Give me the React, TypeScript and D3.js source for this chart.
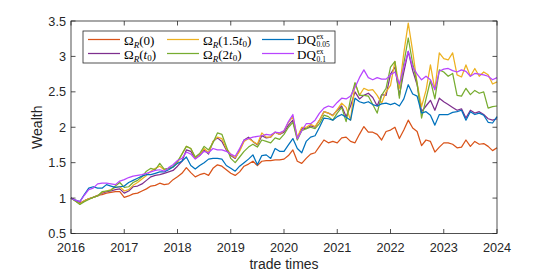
import React from "react";
import * as d3 from "d3";

const startYear = 2016;
const xTicks = [2016, 2017, 2018, 2019, 2020, 2021, 2022, 2023, 2024];
const yTicks = [0.5, 1, 1.5, 2, 2.5, 3, 3.5];

const omegaR0 = [
  1.00, 0.97, 0.93, 0.96, 0.99, 1.01, 1.04, 1.05, 1.07, 1.08, 1.09, 1.09,
  1.01, 1.03, 1.06, 1.07, 1.10, 1.13, 1.17, 1.18, 1.21, 1.19, 1.20, 1.26,
  1.30, 1.35, 1.43, 1.36, 1.30, 1.33, 1.35, 1.32, 1.42, 1.47, 1.45, 1.40,
  1.35, 1.32, 1.37, 1.45, 1.48, 1.52, 1.46, 1.52, 1.53, 1.53, 1.54, 1.54,
  1.55, 1.60, 1.68, 1.52, 1.49, 1.56, 1.62, 1.64, 1.73, 1.82, 1.78, 1.80,
  1.78, 1.85, 1.86, 1.80, 1.78, 1.90, 2.01, 1.93, 1.93, 1.90, 1.82, 1.94,
  1.96, 2.00, 1.84, 1.96, 2.10, 1.99, 1.94, 1.74, 1.82, 1.80, 1.65, 1.72,
  1.78, 1.78, 1.76, 1.71, 1.72, 1.82, 1.73, 1.80, 1.76, 1.77, 1.73, 1.67,
  1.71,
];

const omegaRt0 = [
  1.00, 0.96, 0.92, 0.96, 0.99, 1.01, 1.03, 1.07, 1.09, 1.10, 1.12, 1.13,
  1.07, 1.10, 1.16, 1.17, 1.20, 1.25, 1.30, 1.32, 1.33, 1.35, 1.37, 1.39,
  1.45, 1.52, 1.68, 1.66, 1.56, 1.60, 1.68, 1.62, 1.80, 1.85, 1.80, 1.68,
  1.60, 1.56, 1.68, 1.82, 1.86, 1.80, 1.75, 1.88, 1.85, 1.86, 1.93, 1.90,
  1.93, 2.03, 2.10, 1.84, 1.98, 1.98, 2.02, 2.00, 2.10, 2.22, 2.20, 2.17,
  2.24, 2.30, 2.15, 2.30, 2.50, 2.40, 2.45, 2.48, 2.42, 2.30, 2.46, 2.45,
  2.75, 2.85, 2.45, 2.78, 3.07, 2.80, 2.60, 2.22, 2.30, 2.38, 2.24, 2.41,
  2.36, 2.32, 2.28, 2.24, 2.26, 2.13, 2.24, 2.20, 2.22, 2.18, 2.12, 2.10,
  2.12,
];

const omegaR15t0 = [
  1.00, 0.96, 0.92, 0.96, 0.99, 1.01, 1.03, 1.08, 1.10, 1.12, 1.15, 1.16,
  1.10, 1.12, 1.18, 1.22, 1.27, 1.32, 1.38, 1.42, 1.45, 1.40, 1.42, 1.44,
  1.50, 1.62, 1.73, 1.70, 1.57, 1.62, 1.70, 1.64, 1.80, 1.86, 1.84, 1.70,
  1.62, 1.57, 1.66, 1.80, 1.84, 1.80, 1.76, 1.92, 1.86, 1.86, 1.93, 1.90,
  1.95, 2.07, 2.15, 1.86, 2.00, 2.00, 2.04, 2.01, 2.10, 2.22, 2.20, 2.16,
  2.25, 2.34, 2.28, 2.10, 2.62, 2.45, 2.55, 2.52, 2.53, 2.45, 2.34, 2.50,
  2.59, 2.93, 2.55, 3.05, 3.47, 3.07, 2.62, 2.29, 2.52, 2.88, 2.53, 3.05,
  2.97, 2.95, 3.05, 2.74, 2.71, 2.88, 2.72, 2.83, 2.72, 2.78, 2.74, 2.61,
  2.64,
];

const omegaR2t0 = [
  1.00, 0.96, 0.91, 0.95, 0.98, 1.01, 1.03, 1.09, 1.10, 1.11, 1.17, 1.22,
  1.15, 1.16, 1.22, 1.25, 1.30, 1.38, 1.42, 1.40, 1.49, 1.41, 1.42, 1.44,
  1.52, 1.62, 1.73, 1.70, 1.58, 1.63, 1.73, 1.68, 1.78, 1.92, 1.90, 1.73,
  1.56, 1.50, 1.58, 1.66, 1.72, 1.76, 1.72, 1.82, 1.80, 1.78, 1.85, 1.83,
  1.90, 2.00, 2.07, 1.82, 1.95, 1.98, 2.00, 1.98, 2.05, 2.17, 2.15, 2.10,
  2.20, 2.28, 2.08, 2.40, 2.63, 2.45, 2.45, 2.44, 2.32, 2.20, 2.45, 2.55,
  2.85, 2.93, 2.41, 2.90, 3.26, 2.90, 2.62, 2.13, 2.40, 2.66, 2.40, 2.81,
  2.78, 2.72, 2.76, 2.45, 2.44, 2.55, 2.46, 2.52, 2.48, 2.50, 2.27, 2.29,
  2.30,
];

const dq005 = [
  1.00, 0.97, 0.95, 1.05, 1.14, 1.16, 1.14, 1.14, 1.19, 1.17, 1.15, 1.16,
  1.17, 1.22, 1.25, 1.28, 1.31, 1.33, 1.33, 1.35, 1.37, 1.37, 1.40, 1.44,
  1.49, 1.52, 1.58, 1.46, 1.41, 1.46, 1.50, 1.55, 1.56, 1.56, 1.55, 1.46,
  1.42, 1.38, 1.45, 1.50, 1.55, 1.61, 1.47, 1.60, 1.61, 1.56, 1.70, 1.66,
  1.66, 1.75, 1.84, 1.70, 1.64, 1.80, 1.86, 1.88, 2.00, 2.13, 2.12, 2.10,
  2.15, 2.18, 2.14, 2.10, 2.41, 2.36, 2.34, 2.36, 2.32, 2.30, 2.33, 2.34,
  2.32, 2.34, 2.30, 2.40, 2.60, 2.47, 2.44, 2.20, 2.22, 2.17, 2.03, 2.18,
  2.18, 2.18, 2.21, 2.22, 2.24, 2.10, 2.22, 2.18, 2.20, 2.17, 2.07, 2.06,
  2.15,
];

const dq01 = [
  1.00, 0.97, 0.95, 1.04, 1.12, 1.14, 1.20, 1.21, 1.21, 1.20, 1.19, 1.24,
  1.26, 1.29, 1.31, 1.32, 1.33, 1.35, 1.37, 1.39, 1.40, 1.38, 1.43, 1.47,
  1.53, 1.56, 1.65, 1.62, 1.55, 1.60, 1.66, 1.64, 1.70, 1.68, 1.68, 1.66,
  1.62, 1.59, 1.70, 1.82, 1.84, 1.86, 1.87, 1.88, 1.90, 1.89, 1.93, 1.92,
  1.95, 2.08, 2.18, 1.84, 1.95, 2.05, 2.05, 2.10, 2.20, 2.27, 2.30, 2.28,
  2.35, 2.41, 2.40, 2.44, 2.56, 2.70, 2.81, 2.70, 2.67, 2.70, 2.68, 2.68,
  2.74, 2.78, 2.61, 2.85, 3.07, 2.85, 2.75, 2.67, 2.72, 2.67, 2.53, 2.79,
  2.82, 2.83, 2.80, 2.78, 2.81, 2.79, 2.72, 2.76, 2.75, 2.74, 2.72, 2.67,
  2.70,
];

const seriesColors = ["#D95319", "#7E2F8E", "#EDB120", "#77AC30", "#0072BD", "#B845FF"];

const W = 549;
const H = 273;
const L = 71, R = 497, T = 21, B = 233.5;
const axisColor = "#262626";

export default function App() {
  React.useEffect(() => {
    document.body.style.margin = "0";
  }, []);

  const x = d3.scaleLinear().domain([2016, 2024]).range([L, R]);
  const y = d3.scaleLinear().domain([0.5, 3.5]).range([B, T]);
  const line = d3
    .line<number>()
    .x((_, i) => x(startYear + i / 12))
    .y((v) => y(v));

  const series = [omegaR0, omegaRt0, omegaR15t0, omegaR2t0, dq005, dq01];
  const tickLen = 4.5;
  const serif = "'Liberation Serif', 'DejaVu Serif', serif";
  const sans = "'Liberation Sans', Arial, Helvetica, sans-serif";

  const omega = (lx: number, ly: number, arg: React.ReactNode) => (
    <text x={lx} y={ly} fontFamily={serif} fontSize={13} fill="#000">
      Ω
      <tspan fontStyle="italic" fontSize={9} dy={3}>R</tspan>
      <tspan dy={-3}>{arg}</tspan>
    </text>
  );

  const dq = (lx: number, ly: number, sub: string) => (
    <g fontFamily={serif} fill="#000">
      <text x={lx} y={ly} fontSize={13}>DQ</text>
      <text x={lx + 19.5} y={ly - 5} fontSize={7.5}>ex</text>
      <text x={lx + 19.5} y={ly + 2.8} fontSize={7.5}>{sub}</text>
    </g>
  );

  const t0 = (
    <>
      <tspan fontStyle="italic">t</tspan>
      <tspan fontSize={9} dy={2}>0</tspan>
      <tspan dy={-2}>)</tspan>
    </>
  );

  const legendItems = [
    { lx: 88, ly: 39.5, color: seriesColors[0], label: omega(124, 44.5, "(0)") },
    { lx: 88, ly: 53.5, color: seriesColors[1], label: omega(124, 58.5, <>({t0}</>) },
    { lx: 167, ly: 39.5, color: seriesColors[2], label: omega(203, 44.5, <>(1.5{t0}</>) },
    { lx: 167, ly: 53.5, color: seriesColors[3], label: omega(203, 58.5, <>(2{t0}</>) },
    { lx: 262, ly: 39.5, color: seriesColors[4], label: dq(297, 43.8, "0.05") },
    { lx: 262, ly: 53.5, color: seriesColors[5], label: dq(297, 59.2, "0.1") },
  ];

  return (
    <svg width={W} height={H} style={{ display: "block", background: "#fff" }}>
      <rect x={0} y={0} width={W} height={H} fill="#fff" />
      <g fill="none" strokeWidth={1.25} strokeLinejoin="round">
        {series.map((s, k) => (
          <path key={k} d={line(s) || ""} stroke={seriesColors[k]} />
        ))}
      </g>
      <rect x={L} y={T} width={R - L} height={B - T} fill="none" stroke={axisColor} strokeWidth={0.8} />
      {xTicks.map((t) => (
        <g key={"x" + t}>
          <line x1={x(t)} x2={x(t)} y1={B} y2={B - tickLen} stroke={axisColor} strokeWidth={0.8} />
          <line x1={x(t)} x2={x(t)} y1={T} y2={T + tickLen} stroke={axisColor} strokeWidth={0.8} />
          <text x={x(t)} y={252} textAnchor="middle" fontFamily={sans} fontSize={12.7} fill="#262626">
            {t}
          </text>
        </g>
      ))}
      {yTicks.map((t) => (
        <g key={"y" + t}>
          <line x1={L} x2={L + tickLen} y1={y(t)} y2={y(t)} stroke={axisColor} strokeWidth={0.8} />
          <line x1={R} x2={R - tickLen} y1={y(t)} y2={y(t)} stroke={axisColor} strokeWidth={0.8} />
          <text x={66} y={y(t) + 4.5} textAnchor="end" fontFamily={sans} fontSize={12.7} fill="#262626">
            {t}
          </text>
        </g>
      ))}
      <text x={(L + R) / 2} y={269} textAnchor="middle" fontFamily={sans} fontSize={14} fill="#262626">
        trade times
      </text>
      <text
        transform={`translate(42, ${(T + B) / 2}) rotate(-90)`}
        textAnchor="middle"
        fontFamily={sans}
        fontSize={14}
        fill="#262626"
      >
        Wealth
      </text>
      <rect x={83} y={31} width={252} height={32} fill="#fff" stroke={axisColor} strokeWidth={0.8} />
      {legendItems.map((it, k) => (
        <g key={"l" + k}>
          <line x1={it.lx} x2={it.lx + 32} y1={it.ly} y2={it.ly} stroke={it.color} strokeWidth={1.25} />
          {it.label}
        </g>
      ))}
    </svg>
  );
}
